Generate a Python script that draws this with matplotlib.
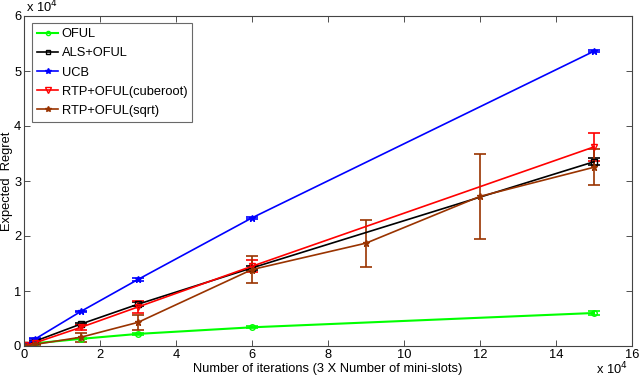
import matplotlib
matplotlib.use("Agg")
import matplotlib.pyplot as plt
from matplotlib.lines import Line2D

plt.rcParams['font.family'] = ['Liberation Sans', 'DejaVu Sans']

# values in units of 1e4
x_main = [0.03, 0.3, 1.5, 3, 6, 15]
x_sqrt = [0.03, 0.3, 1.5, 3, 6, 9, 12, 15]

oful = [0.01, 0.05, 0.13, 0.22, 0.34, 0.60]
oful_err = [0.0, 0.01, 0.01, 0.02, 0.02, 0.03]
als = [0.01, 0.09, 0.40, 0.76, 1.42, 3.35]
als_err = [0.0, 0.01, 0.02, 0.04, 0.04, 0.06]
ucb = [0.01, 0.13, 0.63, 1.21, 2.33, 5.36]
ucb_err = [0.0, 0.01, 0.01, 0.02, 0.02, 0.02]
cube = [0.01, 0.06, 0.34, 0.71, 1.45, 3.62]
cube_err = [0.01, 0.02, 0.05, 0.11, 0.11, 0.25]
sqrt_ = [0.0, 0.03, 0.16, 0.43, 1.39, 1.87, 2.72, 3.25]
sqrt_err = [0.01, 0.02, 0.08, 0.14, 0.24, 0.43, 0.78, 0.33]

labels = ['OFUL', 'ALS+OFUL', 'UCB', 'RTP+OFUL(cuberoot)', 'RTP+OFUL(sqrt)']
xticks = [0, 2, 4, 6, 8, 10, 12, 14, 16]
yticks = [0, 1, 2, 3, 4, 5, 6]

brown = '#993300'
fs = 9.3

fig = plt.figure(figsize=(6.4, 3.78), dpi=100)
ax = fig.add_axes([24/640, 1-346/378, (632-24)/640, (346-16)/378])

series = [
    (x_main, oful, oful_err, '#00ff00', 'o', 4, 1.5),
    (x_main, als, als_err, 'black', 's', 4, 1.2),
    (x_main, ucb, ucb_err, 'blue', '*', 5, 1.2),
    (x_main, cube, cube_err, 'red', 'v', 5, 1.2),
    (x_sqrt, sqrt_, sqrt_err, brown, '*', 5, 1.2),
]
handles = []
for (xs, ys, es, c, m, ms, lw), lab in zip(series, labels):
    mfc = 'none' if m in ('o', 's', 'v') else c
    ax.errorbar(xs, ys, yerr=es, color=c, marker=m, markersize=ms,
                linewidth=lw, elinewidth=1.2, capsize=4.5, capthick=1.2,
                markerfacecolor=mfc, markeredgecolor=c)
    handles.append(Line2D([], [], color=c, marker=m, markersize=ms - 1,
                          linewidth=lw, markerfacecolor=mfc, markeredgecolor=c))

ax.set_xlim(0, 16)
ax.set_ylim(0, 6)
ax.set_xticks(xticks)
ax.set_yticks(yticks)
ax.set_xticklabels([str(t) for t in xticks])
ax.set_yticklabels([str(t) for t in yticks])
ax.tick_params(direction='in', length=4, width=0.6, top=True, right=True,
               labelsize=fs, pad=2, colors='#333333', labelcolor='black')
for s in ax.spines.values():
    s.set_color('#444444')
    s.set_linewidth(0.8)

ax.set_xlabel('Number of iterations (3 X Number of mini-slots)', fontsize=fs, labelpad=1.5)
ax.set_ylabel('Expected  Regret', fontsize=fs, labelpad=1)

fig.text(26/640, 1-7/378, r'x 10$^{4}$', fontsize=fs, va='center', ha='left')
fig.text(596/640, 1-369/378, r'x 10$^{4}$', fontsize=fs, va='center', ha='left')

leg = ax.legend(handles, labels, loc='upper left',
                bbox_to_anchor=(32/640, 1-23/378), bbox_transform=fig.transFigure,
                borderaxespad=0, fontsize=fs, labelspacing=0.55,
                handlelength=1.6, handletextpad=0.3, borderpad=0.4,
                fancybox=False, frameon=True, edgecolor='#444444')
leg.get_frame().set_linewidth(0.8)

fig.savefig('out.png', dpi=100)
